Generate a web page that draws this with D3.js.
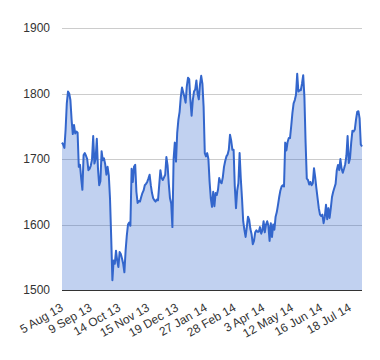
<!DOCTYPE html>
<html>
<head>
<meta charset="utf-8">
<script src="https://cdn.jsdelivr.net/npm/d3@7"></script>
<style>
  html, body { margin: 0; padding: 0; background: #fff; }
  svg { display: block; }
  text { font-family: Arial, "Liberation Sans", sans-serif; font-size: 12px; fill: #333; }
</style>
</head>
<body>
<svg id="chart" width="380" height="360"></svg>
<script>
// Daily values (trading days)
const values = [
  1725,1722,1717,1745,1785,1803,1800,1790,1760,1738,
  1752,1739,1742,1740,1688,1691,1670,1653,1706,1709,
  1705,1700,1683,1685,1690,1699,1735,1693,1700,1731,
  1685,1660,1666,1712,1698,1701,1692,1676,1688,1675,
  1640,1580,1515,1545,1540,1560,1545,1535,1558,1555,
  1548,1540,1527,1560,1583,1600,1603,1598,1685,1665,
  1688,1691,1650,1633,1636,1635,1642,1648,1652,1660,
  1662,1665,1670,1676,1660,1648,1640,1637,1635,1638,
  1637,1660,1683,1671,1668,1672,1676,1703,1690,1662,
  1640,1632,1596,1700,1725,1696,1740,1760,1772,1795,
  1809,1802,1795,1786,1811,1824,1822,1790,1766,1790,
  1803,1806,1820,1800,1791,1814,1827,1815,1780,1709,
  1704,1709,1700,1665,1640,1627,1650,1628,1648,1645,
  1653,1671,1665,1663,1672,1688,1697,1704,1707,1714,
  1737,1728,1714,1714,1658,1625,1652,1663,1709,1670,
  1640,1605,1592,1581,1596,1612,1607,1593,1585,1570,
  1575,1588,1591,1589,1589,1596,1586,1591,1605,1588,
  1600,1605,1598,1575,1602,1581,1600,1592,1612,1619,
  1630,1642,1652,1658,1660,1658,1725,1713,1726,1732,
  1732,1750,1770,1785,1790,1798,1830,1803,1805,1805,
  1815,1828,1795,1725,1670,1668,1661,1665,1660,1663,
  1686,1672,1655,1640,1625,1615,1613,1615,1602,1612,
  1630,1608,1625,1610,1625,1642,1650,1656,1662,1683,
  1691,1683,1700,1685,1679,1685,1692,1705,1735,1694,
  1701,1725,1743,1742,1745,1760,1772,1773,1762,1722,
  1719
];
const tickIndex = [0, 24, 48, 72, 96, 120, 144, 168, 192, 216, 240];
const tickLabels = ["5 Aug 13","9 Sep 13","14 Oct 13","15 Nov 13","19 Dec 13","27 Jan 14","28 Feb 14","3 Apr 14","12 May 14","16 Jun 14","18 Jul 14"];
const yTicks = [1500, 1600, 1700, 1800, 1900];

const svg = d3.select("#chart");
const mLeft = 62, mRight = 362, mTop = 28, mBottom = 290;

const x = d3.scaleLinear().domain([0, values.length - 1]).range([mLeft, mRight]);
const y = d3.scaleLinear().domain([1500, 1900]).range([mBottom, mTop]);

// gridlines
svg.append("g").selectAll("line").data(yTicks.filter(d => d !== 1500)).join("line")
  .attr("x1", mLeft).attr("x2", mRight)
  .attr("y1", d => Math.round(y(d)) + 0.5).attr("y2", d => Math.round(y(d)) + 0.5)
  .attr("stroke", "#cccccc").attr("stroke-width", 1);

// area
const area = d3.area().x((d, i) => x(i)).y0(y(1500)).y1(d => y(d));
svg.append("path").datum(values).attr("d", area)
  .attr("fill", "#3366cc").attr("fill-opacity", 0.3);

// line
const line = d3.line().x((d, i) => x(i)).y(d => y(d));
svg.append("path").datum(values).attr("d", line)
  .attr("fill", "none").attr("stroke", "#3366cc").attr("stroke-width", 2)
  .attr("stroke-linejoin", "round");

// baseline
svg.append("line").attr("x1", mLeft).attr("x2", mRight)
  .attr("y1", Math.round(y(1500)) + 0.5).attr("y2", Math.round(y(1500)) + 0.5)
  .attr("stroke", "#333333").attr("stroke-width", 1);

// y labels
svg.append("g").selectAll("text").data(yTicks).join("text")
  .attr("x", 50).attr("y", d => y(d)).attr("dy", "0.35em")
  .attr("text-anchor", "end").text(d => d);

// x labels
svg.append("g").selectAll("text").data(tickIndex).join("text")
  .attr("transform", (d) => `translate(${x(d) + 2},${310}) rotate(-30)`)
  .attr("text-anchor", "end")
  .text((d, i) => tickLabels[i]);
</script>
</body>
</html>
